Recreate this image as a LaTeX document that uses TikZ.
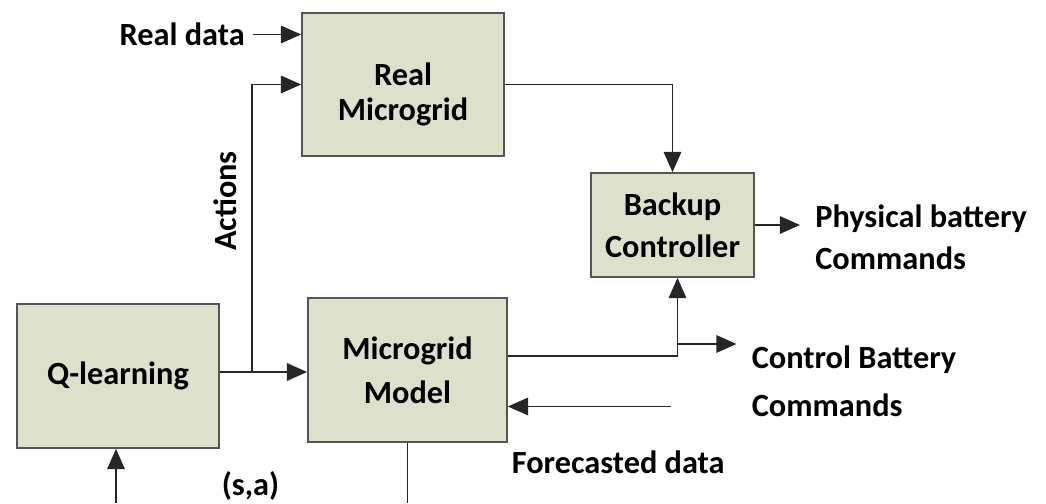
\documentclass[tikz,border=0pt]{standalone}
\usepackage{fontspec}
\setmainfont{Carlito}
\usepackage{tikz}
\usetikzlibrary{arrows.meta}

\definecolor{boxfill}{RGB}{221,225,204}
\definecolor{boxline}{RGB}{85,85,85}

\tikzset{
  txt/.style  = {font=\bfseries\fontsize{18.4}{24}\selectfont, inner sep=0pt},
  blk/.style  = {txt, draw=boxline, fill=boxfill, line width=1pt, align=center},
  arr/.style  = {-{Triangle[length=11.5pt, width=10pt]}},
  wire/.style = {draw=black!85, line width=0.8pt}
}

\begin{document}
\begin{tikzpicture}
		\useasboundingbox (0,0) rectangle (20.92,10.06);

		% blocks
		\node[blk, minimum width=4.04cm, minimum height=2.86cm] (rm) at (8.06,8.37) {\rule{0pt}{24pt}Real\\[-4pt]Microgrid};
		\node[blk, minimum width=3.26cm, minimum height=2.08cm] (bk) at (13.45,5.56) {Backup\\Controller};
		\node[blk, minimum width=4.04cm, minimum height=2.88cm] (ql) at (2.36,2.54) {Q-learning};
		\node[blk, minimum width=3.98cm, minimum height=2.88cm] (mm) at (8.15,2.66) {Microgrid\\[1.3pt]Model};

		% labels
		\node[txt, anchor=east] (realdata) at (4.9,9.37) {Real data};
		\node[txt, rotate=90] (act) at (4.5,6.04) {Actions};
		\node[txt] (sa) at (5.01,0.35) {(s,a)};
		\node[txt, anchor=west] (fcdata) at (10.23,0.82) {Forecasted data};
		\node[txt, anchor=north west, align=left] (phys) at (16.3,5.98) {Physical battery\\Commands};
		\node[txt, anchor=north west, align=left] (ctrl) at (15.03,3.15) {Control Battery\\[3.3pt]Commands};

		% branch points and loose ends
		\coordinate (split) at (5.04,2.62);
		\coordinate (tap) at (13.55,2.94);
		\coordinate (cbtip) at (14.73,3.18);
		\coordinate (pbtip) at (16.0,5.56);
		\coordinate (fcin) at (13.42,1.93);
		\coordinate (qlin) at (2.32,0);
		\coordinate (mmout) at (8.15,0);

		% connections
		\draw[wire, arr, shorten <=0.16cm] (realdata) -- (rm.west |- realdata);
		\draw[wire, arr] (ql.east |- split) -- (mm.west |- split);
		\draw[wire, arr] (split) |- (rm.west);
		\draw[wire, arr] (rm.east) -| (bk.north);
		\draw[wire] (mm.east |- tap) -- (tap);
		\draw[wire, arr] (tap) -- (tap |- bk.south);
		\draw[wire, arr] (tap |- cbtip) -- (cbtip);
		\draw[wire, arr] (bk.east) -- (pbtip);
		\draw[wire, arr] (fcin) -- (mm.east |- fcin);
		\draw[wire, arr] (qlin) -- (qlin |- ql.south);
		\draw[wire] (mm.south) -- (mmout);

	\end{tikzpicture}
\end{document}
